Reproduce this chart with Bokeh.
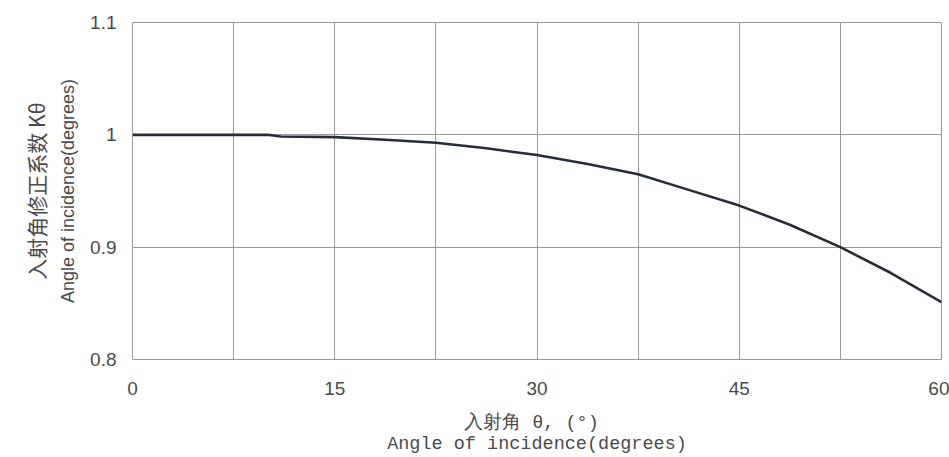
from bokeh.plotting import figure
from bokeh.models import LinearAxis, FixedTicker, Range1d
from bokeh.embed import file_html
from bokeh.resources import INLINE

# data
angle = [0, 5, 10, 11, 15, 18.75, 22.5, 26.25, 30, 33.75, 37.5, 41.25, 45, 48.75, 52.5, 56.25, 60]
k_theta = [1.0, 1.0, 1.0, 0.9985, 0.998, 0.9956, 0.993, 0.988, 0.982, 0.974, 0.965, 0.951,
           0.937, 0.920, 0.900, 0.877, 0.851]
x_ticks = [0, 15, 30, 45, 60]
x_grid = [0, 7.5, 15, 22.5, 30, 37.5, 45, 52.5, 60]
y_ticks = [0.8, 0.9, 1.0, 1.1]
y_tick_labels = ["0.8", "0.9", "1", "1.1"]

TXT = "#4a4a4a"
GRID = "#9a9a9a"

p = figure(width=949, height=457, output_backend="svg", toolbar_location=None,
           x_range=Range1d(0, 60), y_range=Range1d(0.8, 1.1),
           min_border_left=132, min_border_right=8, min_border_top=22, min_border_bottom=98)
p.background_fill_color = "white"
p.border_fill_color = "white"
p.outline_line_color = GRID
p.outline_line_width = 1

p.line(angle, k_theta, line_color="#262c3a", line_width=2.6)

# x axis
xa = p.xaxis[0]
xa.ticker = FixedTicker(ticks=x_ticks)
xa.axis_line_color = None
xa.major_tick_line_color = None
xa.minor_tick_line_color = None
xa.major_tick_in = 0
xa.major_tick_out = 0
xa.major_label_standoff = 22
xa.major_label_text_font = "Liberation Sans"
xa.major_label_text_font_size = "19px"
xa.major_label_text_color = TXT
xa.axis_label = "入射角  θ, (°)"
xa.axis_label_text_font = "Liberation Mono"
xa.axis_label_text_font_style = "normal"
xa.axis_label_text_font_size = "18.5px"
xa.axis_label_text_color = TXT
xa.axis_label_standoff = 15

xa2 = LinearAxis(ticker=FixedTicker(ticks=[]), axis_label="Angle of incidence(degrees)")
xa2.axis_line_color = None
xa2.major_tick_line_color = None
xa2.minor_tick_line_color = None
xa2.major_tick_in = 0
xa2.major_tick_out = 0
xa2.major_label_text_font_size = "0px"
xa2.axis_label_text_font = "Liberation Mono"
xa2.axis_label_text_font_style = "normal"
xa2.axis_label_text_font_size = "18.5px"
xa2.axis_label_text_color = TXT
xa2.axis_label_standoff = -3
p.add_layout(xa2, "below")

# y axis
ya = p.yaxis[0]
ya.ticker = FixedTicker(ticks=y_ticks)
ya.major_label_overrides = {t: s for t, s in zip(y_ticks, y_tick_labels)}
ya.axis_line_color = None
ya.major_tick_line_color = None
ya.minor_tick_line_color = None
ya.major_tick_in = 0
ya.major_tick_out = 0
ya.major_label_standoff = 16
ya.major_label_text_font = "Liberation Sans"
ya.major_label_text_font_size = "19px"
ya.major_label_text_color = TXT
ya.axis_label = "Angle of incidence(degrees)"
ya.axis_label_text_font = "Liberation Sans"
ya.axis_label_text_font_style = "normal"
ya.axis_label_text_font_size = "18px"
ya.axis_label_text_color = TXT
ya.axis_label_standoff = 9

ya2 = LinearAxis(ticker=FixedTicker(ticks=[]), axis_label="入射角修正系数 Kθ")
ya2.axis_line_color = None
ya2.major_tick_line_color = None
ya2.minor_tick_line_color = None
ya2.major_tick_in = 0
ya2.major_tick_out = 0
ya2.major_label_text_font_size = "0px"
ya2.axis_label_text_font = "Noto Sans CJK SC"
ya2.axis_label_text_font_style = "normal"
ya2.axis_label_text_font_size = "21px"
ya2.axis_label_text_color = TXT
ya2.axis_label_standoff = 5
p.add_layout(ya2, "left")

# grids
p.xgrid.ticker = FixedTicker(ticks=x_grid)
p.ygrid.ticker = FixedTicker(ticks=y_ticks)
p.xgrid.grid_line_color = GRID
p.ygrid.grid_line_color = GRID
p.xgrid.grid_line_width = 1
p.ygrid.grid_line_width = 1

open("out.html", "w").write(file_html(p, INLINE))
